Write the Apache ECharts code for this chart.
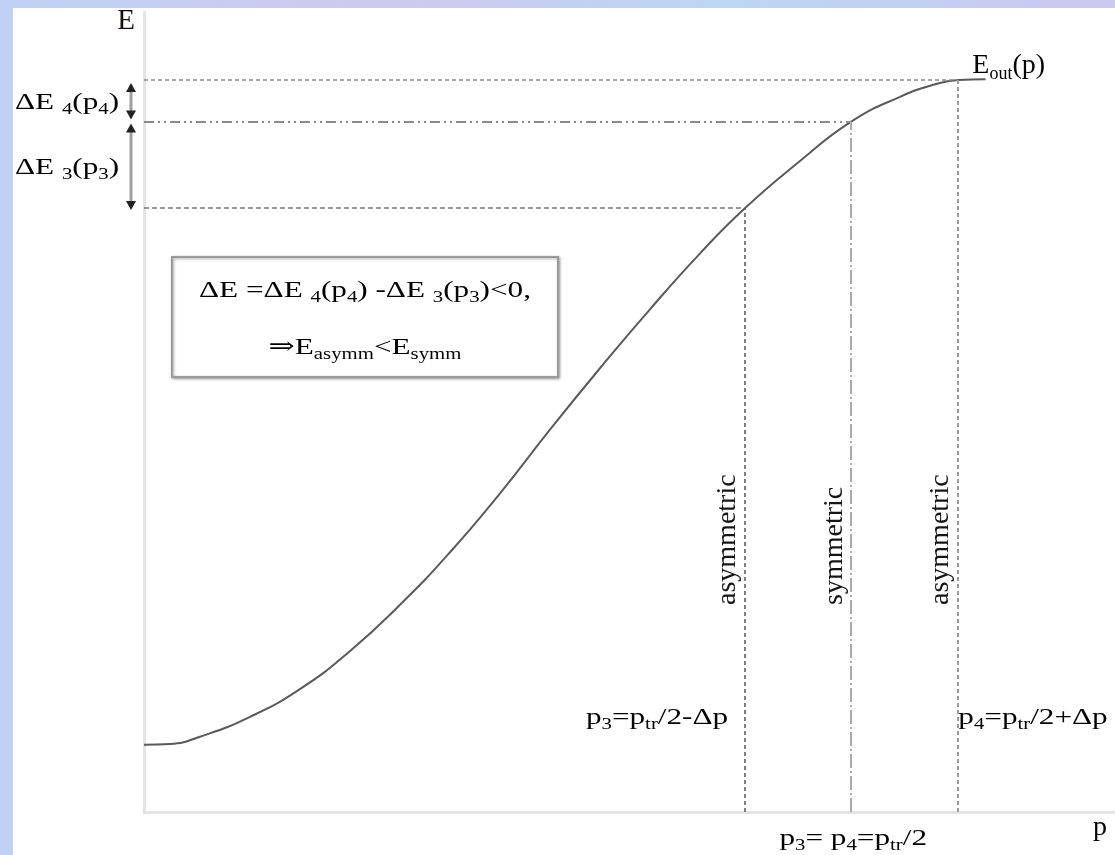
<!DOCTYPE html>
<html>
<head>
<meta charset="utf-8">
<script src="https://cdn.jsdelivr.net/npm/echarts@6/dist/echarts.min.js"></script>
<style>
html, body { margin: 0; padding: 0; width: 1115px; height: 855px; overflow: hidden;
  background: linear-gradient(90deg, #bfd2f3, #cdc9ef 35%, #bcd6f4 65%, #cbc8f0); }
#main { position: absolute; left: 13px; top: 8px; width: 1102px; height: 847px; background: #fff; }
</style>
</head>
<body>
<div id="main"></div>
<script>
// E_out(p) 曲线，p 以 p_tr/2 为单位
const pValues = [0, 0.037, 0.079, 0.150, 0.221, 0.291, 0.362, 0.433, 0.504, 0.574,
  0.645, 0.716, 0.786, 0.850, 0.928, 1.000, 1.069, 1.116, 1.151, 1.190];
const eValues = [0.84, 0.85, 0.94, 1.19, 1.54, 2.01, 2.59, 3.25, 3.99, 4.78,
  5.55, 6.29, 6.98, 7.55, 8.14, 8.63, 8.94, 9.09, 9.15, 9.16];

// 标记点：非对称 p3、对称、非对称 p4
const markP = [0.85, 1.00, 1.15];
const markE = [7.55, 8.63, 9.15];
const markNames = ['asymmetric', 'symmetric', 'asymmetric'];

const xMax = 1.373;
const yMax = 10;

const FONT = "'Liberation Serif', 'DejaVu Serif', serif";
const INK = '#141414';

const chart = echarts.init(document.getElementById('main'));

function guide(from, to, color, width, type) {
  return [
    { coord: from, lineStyle: { color: color, width: width, type: type } },
    { coord: to }
  ];
}

chart.setOption({
  animation: false,
  grid: { left: 131, right: 0, top: 4, bottom: 43 },
  xAxis: {
    type: 'value', min: 0, max: xMax,
    axisLine: { lineStyle: { color: '#e4e4e4', width: 3 } },
    axisTick: { show: false }, axisLabel: { show: false }, splitLine: { show: false }
  },
  yAxis: {
    type: 'value', min: 0, max: yMax,
    axisLine: { show: true, lineStyle: { color: '#e4e4e4', width: 3 } },
    axisTick: { show: false }, axisLabel: { show: false }, splitLine: { show: false }
  },
  series: [{
    type: 'line',
    data: pValues.map((p, i) => [p, eValues[i]]),
    smooth: 0.5,
    symbol: 'none',
    lineStyle: { color: '#5a5a5a', width: 2 },
    markLine: {
      silent: true,
      symbol: ['none', 'none'],
      label: { show: false },
      data: [
        guide([0, markE[2]], [markP[2], markE[2]], '#8a8a8a', 1.5, [4, 3]),
        guide([0, markE[1]], [markP[1], markE[1]], '#8a8a8a', 2, [10, 4, 2, 4, 2, 4]),
        guide([0, markE[0]], [markP[0], markE[0]], '#777', 1.5, [5, 3]),
        guide([markP[0], 0], [markP[0], markE[0]], '#555', 1.5, [4, 3]),
        guide([markP[1], 0], [markP[1], markE[1]], '#aaa', 2, [14, 3, 2, 3]),
        guide([markP[2], 0], [markP[2], markE[2]], '#999', 2, [4, 3])
      ]
    }
  }]
});

// 注释文字与箭头
function richSet(size, sub) {
  return {
    n: { fontFamily: FONT, fontSize: size, lineHeight: size + 6, color: INK },
    s: { fontFamily: FONT, fontSize: sub, lineHeight: sub - 4, verticalAlign: 'bottom', color: INK }
  };
}
const wideRich = richSet(24, 16);
const normalRich = richSet(28, 18);

// 原图里横排公式字体略被横向拉宽
function wideLabel(x, y, text, align) {
  return {
    type: 'text', x: x, y: y, silent: true, scaleX: 1.3,
    style: { text: text, rich: wideRich, align: align || 'left', verticalAlign: 'middle' }
  };
}
function label(x, y, text, align) {
  return {
    type: 'text', x: x, y: y, silent: true,
    style: { text: text, rich: normalRich, align: align || 'left', verticalAlign: 'middle' }
  };
}
function arrowHead(x, y, up) {
  const d = up ? 1 : -1;
  return {
    type: 'polygon', silent: true,
    shape: { points: [[x, y], [x - 5, y + d * 9], [x + 5, y + d * 9]] },
    style: { fill: '#222' }
  };
}

const px = markP.map((p, i) => chart.convertToPixel('grid', [p, markE[i]]));
const origin = chart.convertToPixel('grid', [0, 0]);
const ax = origin[0] - 13;

const graphics = [
  {
    type: 'text', x: origin[0] - 18, y: 13, silent: true,
    style: { text: 'E', fontFamily: FONT, fontSize: 29, fill: '#1a1010', align: 'center', verticalAlign: 'middle' }
  },
  wideLabel(2, px[2][1] + 23, '{n|ΔE }{s|4}{n|(p}{s|4}{n|)}'),
  wideLabel(2, (px[1][1] + px[0][1]) / 2 + 3, '{n|ΔE }{s|3}{n|(p}{s|3}{n|)}'),
  // 双向箭头
  { type: 'line', silent: true, shape: { x1: ax, y1: px[2][1] + 6, x2: ax, y2: px[1][1] - 5 },
    style: { stroke: '#a0a0a0', lineWidth: 3 } },
  arrowHead(ax, px[2][1] + 3, true), arrowHead(ax, px[1][1] - 2, false),
  { type: 'line', silent: true, shape: { x1: ax, y1: px[1][1] + 6, x2: ax, y2: px[0][1] - 4 },
    style: { stroke: '#a0a0a0', lineWidth: 3 } },
  arrowHead(ax, px[1][1] + 2, true), arrowHead(ax, px[0][1] + 2, false),
  // 公式框
  { type: 'rect', silent: true, shape: { x: 159, y: 249, width: 386, height: 120 },
    style: { fill: '#fff', stroke: '#9a9a9a', lineWidth: 2,
      shadowBlur: 3, shadowOffsetX: 1, shadowOffsetY: 1, shadowColor: 'rgba(0,0,0,0.35)' } },
  wideLabel(352, 283, '{n|ΔE =ΔE }{s|4}{n|(p}{s|4}{n|) -ΔE }{s|3}{n|(p}{s|3}{n|)<0,}', 'center'),
  wideLabel(352, 340, '{n|⇒E}{s|asymm}{n|<E}{s|symm}', 'center'),
  label(px[2][0] + 15, px[2][1] - 14, '{n|E}{s|out}{n|(p)}'),
  wideLabel(px[0][0] - 17, 710, '{n|p}{s|3}{n|=p}{s|tr}{n|/2-Δp}', 'right'),
  wideLabel(px[2][0] + 1, 710, '{n|p}{s|4}{n|=p}{s|tr}{n|/2+Δp}'),
  wideLabel(px[1][0] + 2, 831, '{n|p}{s|3}{n|= p}{s|4}{n|=p}{s|tr}{n|/2}', 'center'),
  label(1087, 820, '{n|p}', 'center')
];
// 竖排文字
markNames.forEach((name, i) => {
  graphics.push({
    type: 'text', silent: true, x: px[i][0] - 3, y: 597, rotation: Math.PI / 2,
    style: { text: name, fontFamily: FONT, fontSize: 28, fill: INK, align: 'left', verticalAlign: 'bottom' }
  });
});
chart.setOption({ graphic: graphics });
</script>
</body>
</html>
